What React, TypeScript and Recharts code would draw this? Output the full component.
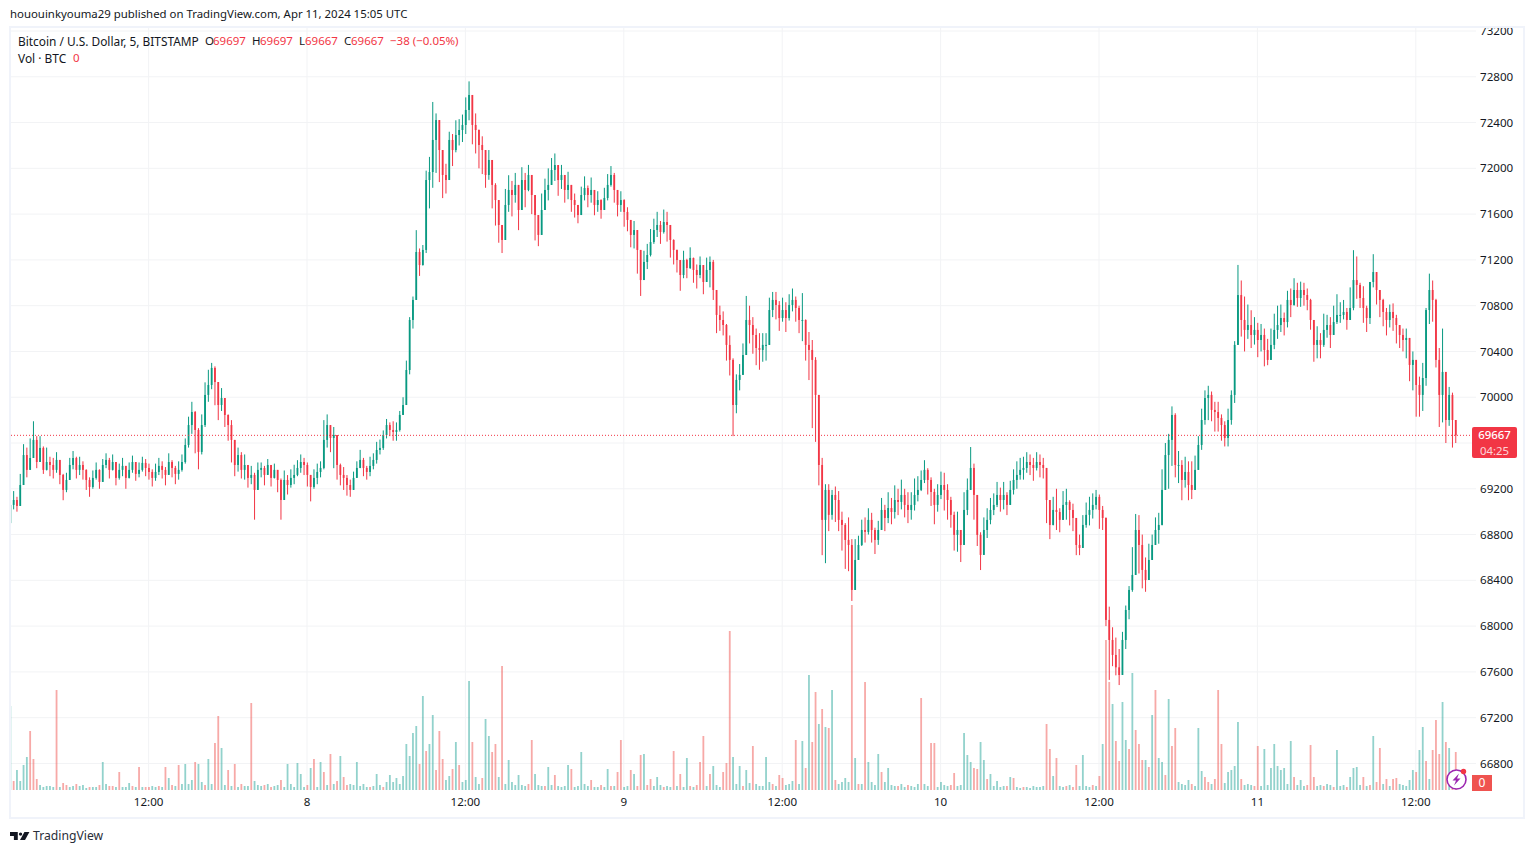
import React from "react";
import { ComposedChart, Bar, XAxis, YAxis, CartesianGrid, ReferenceLine } from "recharts";

const FONT = "'Noto Sans', sans-serif";
const UP = "#089981";
const DOWN = "#f23645";
const VOL_UP = "rgba(38,166,154,0.5)";
const VOL_DOWN = "rgba(239,83,80,0.5)";
const INK = "#131722";

const priceTicks = [66800, 67200, 67600, 68000, 68400, 68800, 69200, 69600, 70000, 70400, 70800, 71200, 71600, 72000, 72400, 72800, 73200];
// The 69600 label sits hidden behind the last-price tag in the reference.
const labelledPriceTicks = priceTicks.filter((t) => t !== 69600);
const timeTicks = [42, 90, 138, 186, 234, 282, 330, 378, 426];
const timeLabels = ["12:00", "8", "12:00", "9", "12:00", "10", "12:00", "11", "12:00"];
const lastPrice = 69667;

const closes = [
  69059,69102,69050,69233,69495,69365,69469,69627,69434,69557,69365,69434,
  69408,69365,69452,69321,69190,69277,69408,69469,69365,69408,69365,69277,
  69216,69295,69365,69260,69408,69452,69365,69434,69295,69365,69400,69295,
  69365,69434,69330,69365,69426,69382,69347,69295,69347,69400,69365,69321,
  69434,69382,69330,69365,69434,69583,69757,69871,69714,69522,69757,70020,
  70107,70256,70133,69932,69993,69845,69757,69627,69408,69495,69365,69408,
  69295,69321,69190,69365,69382,69321,69408,69295,69365,69277,69102,69277,
  69233,69295,69321,69382,69434,69408,69321,69216,69295,69347,69382,69627,
  69757,69644,69670,69408,69321,69295,69233,69190,69295,69382,69452,69382,
  69347,69400,69452,69539,69557,69670,69757,69714,69696,69714,69845,69932,
  70238,70675,70850,71269,71155,71287,71898,71968,72248,72422,72160,71942,
  71898,72248,72160,72291,72335,72379,72510,72641,72379,72335,72204,72160,
  71942,72073,71855,71723,71505,71374,71680,71811,71767,71855,71636,71898,
  71811,71942,71767,71592,71418,71636,71811,71855,71986,72029,71898,71942,
  71811,71855,71723,71680,71592,71767,71828,71767,71811,71680,71723,71636,
  71741,71855,71942,71811,71680,71723,71619,71549,71418,71461,71287,71024,
  71182,71243,71356,71461,71505,71444,71531,71505,71374,71287,71199,71068,
  71199,71129,71217,71112,71068,71155,71007,71112,71182,70937,70719,70675,
  70631,70457,70326,69932,70151,70195,70369,70675,70631,70544,70430,70413,
  70457,70457,70762,70850,70806,70692,70762,70692,70806,70850,70780,70675,
  70675,70457,70413,70326,70020,69408,68928,69190,68972,69146,69102,68928,
  68884,68753,68709,68316,68578,68709,68840,68823,68928,68840,68753,68840,
  69015,68945,69032,68997,69102,69085,69146,69059,69015,69059,69146,69190,
  69277,69365,69277,69172,69059,69146,69233,69190,69102,68972,68797,68840,
  68709,69015,69190,69382,69146,68797,68622,68840,68928,69015,69059,69146,
  69102,69146,69059,69190,69277,69321,69365,69382,69434,69408,69382,69434,
  69408,69382,69102,68884,69015,68997,68928,69059,69085,69015,68945,68709,
  68683,68884,68972,69015,69059,69129,69015,68945,68054,67879,67748,67640,
  67573,67879,68141,68316,68447,68840,68709,68491,68403,68578,68709,68840,
  68884,69190,69495,69627,69845,69408,69408,69277,69347,69233,69190,69365,
  69583,69801,69993,70020,69889,69871,69819,69757,69644,69801,70020,70457,
  70893,70675,70588,70631,70544,70588,70500,70544,70413,70326,70457,70588,
  70631,70692,70657,70850,70806,70937,70867,70937,70893,70850,70675,70457,
  70500,70457,70588,70631,70544,70657,70719,70719,70745,70675,70780,71024,
  70981,70867,70780,70692,71007,71094,70937,70850,70745,70675,70745,70692,
  70631,70544,70500,70518,70282,70326,70107,70020,70168,70762,70937,70850,
  70326,70020,70221,69801,70020,69801,69667,
];

const highs = [
  69150,69180,69130,69330,69590,69560,69640,69790,69660,69660,69570,69560,
  69480,69470,69520,69440,69330,69340,69470,69530,69480,69480,69440,69370,
  69300,69360,69430,69370,69460,69510,69470,69500,69400,69420,69470,69380,
  69430,69490,69430,69430,69480,69460,69420,69370,69420,69470,69440,69390,
  69510,69450,69400,69440,69500,69640,69830,69960,69880,69730,69850,70130,
  70240,70300,70270,70080,70080,69990,69850,69800,69590,69560,69520,69500,
  69380,69400,69340,69430,69430,69400,69460,69380,69420,69350,69290,69360,
  69320,69370,69410,69450,69500,69470,69430,69320,69370,69420,69440,69800,
  69850,69720,69740,69670,69420,69390,69320,69280,69350,69440,69540,69470,
  69400,69480,69510,69610,69630,69710,69810,69780,69790,69780,69880,70000,
  70320,70700,70880,71460,71300,71330,71980,72100,72580,72480,72280,72120,
  72040,72320,72300,72420,72430,72470,72620,72760,72600,72480,72340,72280,
  72100,72160,72040,71870,71720,71490,71820,71940,71890,71960,71830,72010,
  71960,72030,71890,71760,71510,71780,71910,72000,72090,72130,72010,72030,
  71930,71970,71830,71780,71680,71840,71930,71850,71920,71790,71800,71730,
  71830,71950,72020,71960,71790,71800,71730,71660,71530,71540,71440,71240,
  71280,71340,71470,71560,71620,71540,71640,71620,71470,71380,71290,71190,
  71280,71210,71310,71220,71160,71230,71150,71220,71230,71200,70870,70800,
  70750,70640,70540,70340,70200,70290,70470,70885,70800,70700,70600,70560,
  70560,70560,70870,70920,70920,70840,70870,70830,70900,70950,70880,70800,
  70910,70680,70570,70500,70350,70000,69470,69240,69240,69190,69220,69180,
  69000,68900,68950,68760,68760,68790,68930,68950,69030,68990,68860,68920,
  69120,69060,69170,69120,69230,69200,69280,69200,69170,69170,69290,69310,
  69360,69450,69380,69300,69200,69240,69350,69340,69240,69130,69000,69000,
  68830,69170,69290,69565,69420,68990,68820,68950,69030,69120,69160,69260,
  69210,69260,69170,69270,69370,69440,69470,69480,69520,69500,69470,69520,
  69500,69470,69330,69100,69130,69200,69030,69180,69200,69100,69070,68800,
  68800,68970,69080,69130,69160,69190,69150,69050,68950,68170,67990,67900,
  67800,67950,68180,68350,68690,68980,68970,68800,68600,68720,68800,68950,
  68990,69370,69600,69680,69920,69860,69530,69450,69480,69440,69440,69490,
  69660,69900,70060,70100,70050,69960,69960,69850,69790,69900,70060,70490,
  71156,71020,70880,70810,70760,70700,70650,70640,70600,70510,70600,70730,
  70800,70810,70740,70930,70950,71040,71000,71010,71000,70950,70860,70550,
  70620,70560,70730,70720,70700,70800,70900,70830,70850,70780,70960,71285,
  71230,71000,70970,70800,71000,71250,71070,70930,70860,70780,70810,70820,
  70720,70620,70600,70600,70500,70400,70260,70180,70300,70780,71080,71020,
  70860,70430,70600,70050,70090,70040,69770,
];

const lows = [
  68850,69020,69000,69130,69340,69300,69420,69480,69380,69490,69330,69360,
  69310,69290,69340,69240,69100,69170,69290,69370,69290,69320,69280,69190,
  69130,69200,69280,69200,69300,69380,69290,69360,69230,69280,69310,69200,
  69290,69340,69270,69300,69350,69310,69280,69220,69270,69320,69290,69230,
  69350,69300,69240,69280,69350,69420,69560,69680,69510,69370,69500,69740,
  69960,70070,69930,69800,69880,69740,69620,69430,69310,69350,69290,69280,
  69210,69240,68930,69290,69300,69230,69330,69220,69290,69170,68930,69180,
  69150,69210,69240,69310,69340,69320,69220,69090,69200,69240,69300,69370,
  69560,69520,69380,69280,69230,69190,69140,69130,69220,69300,69380,69310,
  69280,69310,69370,69420,69500,69540,69640,69660,69620,69620,69700,69850,
  69980,70200,70600,71100,71060,71150,71260,71650,71830,71960,71880,71740,
  71780,72060,72020,72140,72200,72230,72300,72420,72210,72130,72000,71950,
  71830,71900,71650,71500,71350,71260,71480,71620,71580,71700,71460,71720,
  71660,71800,71600,71370,71320,71500,71660,71720,71860,71890,71760,71820,
  71700,71730,71620,71570,71520,71670,71720,71660,71700,71590,71620,71560,
  71640,71720,71840,71700,71580,71620,71490,71450,71310,71300,71080,70885,
  71040,71120,71230,71340,71400,71340,71430,71360,71220,71160,71090,70930,
  71040,71040,71120,71000,70950,71040,70900,71020,70960,70850,70560,70580,
  70540,70320,70190,69660,69860,70060,70230,70540,70470,70380,70280,70240,
  70310,70320,70500,70700,70680,70580,70660,70570,70670,70750,70660,70560,
  70490,70320,70150,69730,69610,69230,68620,68550,68830,68930,68910,68830,
  68660,68500,68480,68220,68450,68580,68700,68730,68800,68730,68630,68710,
  68870,68830,68900,68890,68940,68970,69020,68950,68900,68930,69010,69090,
  69180,69250,69150,69050,68890,69000,69110,69010,68930,68860,68660,68650,
  68560,68820,68970,69190,68930,68700,68490,68660,68770,68890,68970,69040,
  69000,69020,68970,69070,69150,69200,69280,69280,69340,69320,69270,69360,
  69300,69290,68900,68760,68880,68840,68820,68950,68930,68880,68830,68620,
  68620,68760,68860,68880,68940,69020,68850,68840,68000,67530,67650,67570,
  67485,67600,67800,68060,68300,68550,68460,68330,68300,68430,68600,68720,
  68720,68880,69200,69200,69400,69300,69250,69100,69210,69100,69110,69220,
  69470,69540,69760,69800,69790,69700,69700,69620,69570,69570,69760,69950,
  70550,70530,70400,70510,70430,70460,70350,70400,70270,70280,70350,70420,
  70510,70570,70540,70610,70700,70800,70790,70790,70800,70760,70590,70310,
  70340,70340,70440,70520,70430,70570,70640,70650,70680,70590,70680,70760,
  70860,70780,70650,70570,70640,70960,70810,70700,70620,70540,70610,70580,
  70470,70430,70400,70340,70140,70060,69830,69830,69880,70100,70640,70660,
  70260,69740,69780,69600,69750,69560,69600,
];

const volumes = [
  84,-9,20,9,25,33,-59,-31,-11,5,3,4,
  4,3,-100,3,-7,-5,3,4,-6,4,5,2,
  -3,3,3,-5,28,6,-4,-4,3,-18,3,3,
  7,-4,3,-23,3,-3,-3,4,3,-4,3,-23,
  12,-5,4,-25,6,26,6,10,-28,26,8,-5,
  31,6,-47,-74,42,5,-20,4,-26,3,-6,4,
  4,-87,9,5,4,-5,6,-3,4,5,-10,3,
  26,6,3,27,16,3,-5,22,-31,3,28,-18,
  5,-36,6,-9,34,-13,-5,6,5,28,4,6,
  3,-3,4,16,5,-3,8,15,8,12,6,14,
  46,34,57,64,-26,94,-39,46,75,-20,-59,-31,
  10,14,-21,48,-25,8,10,109,-48,13,6,-12,
  71,54,-38,-46,13,-124,6,30,8,5,15,5,
  4,-6,-50,16,5,4,-4,23,5,-15,4,3,
  4,25,-21,3,4,38,6,4,-10,3,3,-5,
  3,21,-4,4,-18,-50,3,4,-20,16,-4,-35,
  36,-5,-11,4,13,5,-3,4,3,-39,4,-16,
  3,32,-4,3,-5,-28,-54,4,-16,24,5,3,
  -18,-27,-159,33,6,24,-4,20,7,-44,6,4,
  4,33,8,-6,4,-15,-12,5,6,9,-50,6,
  49,-22,115,-48,-98,66,-81,63,-62,100,-10,6,
  8,12,8,-185,32,-6,6,-108,28,8,5,36,
  -18,8,22,5,4,-4,6,3,-5,4,3,6,
  -92,6,4,-47,-47,3,8,5,4,-5,-17,4,
  5,57,35,28,-22,-21,48,30,-11,16,4,9,
  3,4,-4,13,-12,3,2,-3,3,2,4,3,
  3,4,-66,-41,14,-32,4,3,-4,5,-3,-25,
  4,35,4,3,-5,4,-14,46,-150,-108,86,-49,
  -29,88,50,-41,117,-60,-46,-30,30,-23,75,-100,
  32,28,-15,91,-44,-62,8,6,5,10,-6,4,
  62,19,-13,-8,6,-11,-100,-46,7,18,20,24,
  68,-11,5,6,5,-4,-44,4,41,5,22,46,
  24,20,22,6,49,-13,5,10,4,-5,-45,-13,
  4,5,-4,6,5,-3,40,4,5,-3,13,22,
  23,5,-13,4,-5,54,-8,-42,6,-11,4,-11,
  -12,6,5,4,10,20,-18,40,63,-29,11,-40,
  -70,-36,88,-48,42,-10,-38,
];

const chartData = closes.map((close, i) => {
  const open = i === 0 ? 68900 : closes[i - 1];
  const high = Math.max(highs[i], open, close);
  const low = Math.min(lows[i], open, close);
  return { slot: i, open, close, high, low, range: [low, high], vol: Math.abs(volumes[i] ?? 0), volSign: volumes[i] ?? 0 };
});

function CandleShape(props: any) {
  const { x, width, y, height, payload } = props;
  const span = payload.high - payload.low || 1;
  const unit = height / span;
  const yOpen = y + (payload.high - payload.open) * unit;
  const yClose = y + (payload.high - payload.close) * unit;
  const color = payload.close >= payload.open ? UP : DOWN;
  const cx = x + width / 2;
  return (
    <g>
      <rect x={cx - 0.5} y={y} width={1} height={height} fill={color} />
      <rect x={cx - 0.9} y={Math.min(yOpen, yClose)} width={1.8} height={Math.max(Math.abs(yOpen - yClose), 1)} fill={color} />
    </g>
  );
}

function VolumeShape(props: any) {
  const { x, width, y, height, payload } = props;
  return <rect x={x + width / 2 - 0.9} y={y} width={1.8} height={height} fill={payload.volSign < 0 ? VOL_DOWN : VOL_UP} />;
}

const abs = (left: number, top: number, extra: React.CSSProperties = {}): React.CSSProperties => ({
  position: "absolute",
  left,
  top,
  whiteSpace: "nowrap",
  fontFamily: FONT,
  fontSize: 11.5,
  lineHeight: "14px",
  color: INK,
  ...extra,
});

const legendPieces: [number, string, string][] = [
  [205, "O", INK], [213, "69697", DOWN], [252, "H", INK], [260, "69697", DOWN], [299, "L", INK], [305, "69667", DOWN],
  [344, "C", INK], [351, "69667", DOWN], [390, "−38 (−0.05%)", DOWN],
];

export default function App() {
  return (
    <div style={{ position: "absolute", left: 0, top: 0, width: 1534, height: 854, overflow: "hidden", background: "#fff" }}>
      <ComposedChart
        width={1534}
        height={854}
        data={chartData}
        margin={{ top: 27, right: 10, bottom: 36, left: 10 }}
        barGap={-2}
        style={{ position: "absolute", left: 0, top: 0 }}
      >
        <CartesianGrid yAxisId="price" stroke="#f2f3f5" strokeWidth={1} horizontalValues={priceTicks} verticalValues={timeTicks} />
        <XAxis
          dataKey="slot"
          type="number"
          domain={[0, 444.24]}
          allowDataOverflow
          ticks={timeTicks}
          interval={0}
          tickFormatter={(v: number) => timeLabels[timeTicks.indexOf(v)] ?? ""}
          axisLine={false}
          tickLine={false}
          height={28}
          tick={{ fontFamily: FONT, fontSize: 11.6, fill: INK }}
        />
        <YAxis
          yAxisId="price"
          orientation="right"
          domain={[66568, 73235]}
          allowDataOverflow
          ticks={labelledPriceTicks}
          interval={0}
          axisLine={false}
          tickLine={false}
          tickMargin={4}
          tickSize={0}
          width={48}
          tick={{ fontFamily: FONT, fontSize: 11.6, fill: INK }}
        />
        <YAxis yAxisId="vol" hide domain={[0, 763]} allowDataOverflow />
        <Bar yAxisId="vol" dataKey="vol" barSize={2} isAnimationActive={false} shape={VolumeShape} />
        <Bar yAxisId="price" dataKey="range" barSize={2} isAnimationActive={false} shape={CandleShape} />
        <ReferenceLine yAxisId="price" y={lastPrice} stroke={DOWN} strokeDasharray="1 2" strokeWidth={1} />
      </ComposedChart>

      <div style={{ position: "absolute", left: 9, top: 26, width: 1516, height: 793, boxSizing: "border-box", border: "2px solid #f0f3fa", pointerEvents: "none" }} />

      <div style={abs(10, 7, { fontSize: 11.4 })}>hououinkyouma29 published on TradingView.com, Apr 11, 2024 15:05 UTC</div>
      <div style={abs(18, 34, { fontSize: 11.9 })}>Bitcoin / U.S. Dollar, 5, BITSTAMP</div>
      {legendPieces.map(([left, text, color]) => (
        <div key={left} style={abs(left, 34, { color })}>{text}</div>
      ))}
      <div style={abs(18, 51, { fontSize: 11.9 })}>Vol · BTC</div>
      <div style={abs(73, 51, { color: DOWN })}>0</div>

      <div style={{ position: "absolute", left: 1472, top: 427, width: 45, height: 31, background: DOWN, borderRadius: 2, textAlign: "center", fontFamily: FONT, color: "#fff", fontSize: 11.4, lineHeight: "15.6px" }}>
        <div style={{ fontWeight: 500 }}>69667</div>
        <div style={{ color: "rgba(255,255,255,0.8)" }}>04:25</div>
      </div>
      <div style={{ position: "absolute", left: 1472, top: 775, width: 20, height: 16, background: "#ef5350", textAlign: "center", fontFamily: FONT, color: "#fff", fontSize: 12, lineHeight: "16px" }}>0</div>

      <svg width={30} height={30} style={{ position: "absolute", left: 1442, top: 764 }}>
        <circle cx={14.5} cy={15.5} r={9.5} fill="#fff" stroke="#9c27b0" strokeWidth={1.6} />
        <path d="M17 9.5 L10.5 16.5 L14 16.5 L12 21.5 L18.5 14.5 L15 14.5 Z" fill="#9c27b0" />
        <circle cx={21.5} cy={7.5} r={2.7} fill="#f23645" />
      </svg>

      <svg width={20} height={10} viewBox="0 0 36 18" style={{ position: "absolute", left: 10, top: 831 }}>
        <path d="M0 2 H14 V16 H7 V9 H0 Z" fill={INK} />
        <circle cx={19} cy={5.5} r={3} fill={INK} />
        <path d="M26 2 H35 L27 16 H18 Z" fill={INK} />
      </svg>
      <div style={abs(33, 828, { fontSize: 12.2, lineHeight: "16px", color: "#2a2e39" })}>TradingView</div>
    </div>
  );
}
